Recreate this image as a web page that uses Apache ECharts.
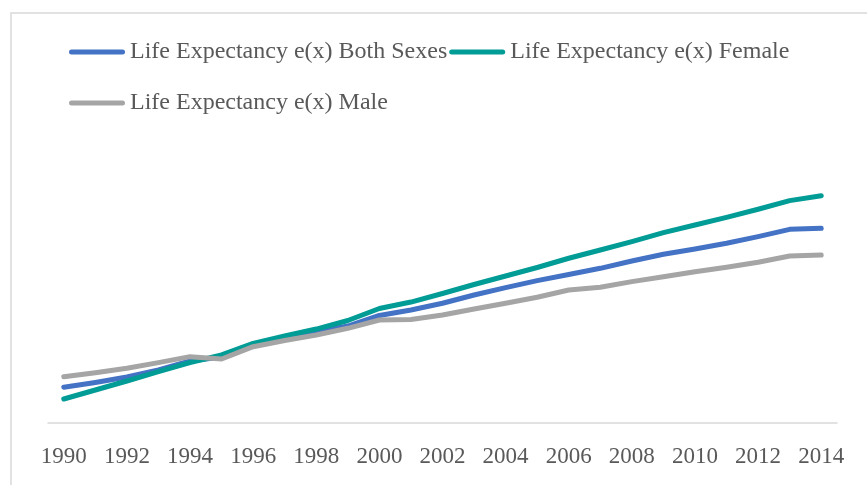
<!DOCTYPE html>
<html>
<head>
<meta charset="utf-8">
<script src="https://cdn.jsdelivr.net/npm/echarts@6/dist/echarts.min.js"></script>
<style>
html,body{margin:0;padding:0;background:#fff;}
#chart{width:867px;height:485px;}
</style>
</head>
<body>
<div id="chart"></div>
<script>
const years = ['1990','1991','1992','1993','1994','1995','1996','1997','1998','1999','2000','2001','2002','2003','2004','2005','2006','2007','2008','2009','2010','2011','2012','2013','2014'];
const bothSexes = [52.98,53.38,53.83,54.42,55.17,55.50,56.50,57.08,57.58,58.08,58.96,59.42,59.98,60.67,61.28,61.86,62.38,62.89,63.50,64.06,64.50,64.98,65.53,66.14,66.23];
const female = [52.00,52.75,53.50,54.29,55.04,55.67,56.63,57.25,57.83,58.54,59.54,60.08,60.79,61.54,62.25,62.96,63.73,64.42,65.11,65.86,66.50,67.14,67.81,68.53,68.94];
const male = [53.86,54.19,54.56,55.03,55.53,55.33,56.36,56.88,57.33,57.89,58.58,58.63,59.00,59.50,59.98,60.48,61.08,61.31,61.78,62.19,62.61,62.98,63.39,63.92,64.00];
const seriesNames = ['Life Expectancy e(x) Both Sexes','Life Expectancy e(x) Female','Life Expectancy e(x) Male'];
const colors = ['#4472C4','#009C95','#A5A5A5'];

const chart = echarts.init(document.getElementById('chart'));
const font = '"Liberation Serif", "DejaVu Serif", serif';
const capsule = 'path://M2.5,0 L53.5,0 A2.5,2.5 0 0 1 53.5,5 L2.5,5 A2.5,2.5 0 0 1 2.5,0 Z';
const legendBase = {
  orient: 'horizontal',
  padding: 0,
  itemWidth: 56,
  itemHeight: 5,
  itemGap: 2,
  icon: capsule,
  textStyle: { fontFamily: font, fontSize: 24, color: '#595959' }
};
function mkSeries(name, data, color) {
  return {
    name: name, type: 'line', data: data, symbol: 'none', smooth: false,
    itemStyle: { color: color },
    lineStyle: { color: color, width: 5, cap: 'round', join: 'round' },
    emphasis: { disabled: true }, animation: false
  };
}
chart.setOption({
  animation: false,
  backgroundColor: '#fff',
  graphic: [{
    type: 'rect', silent: true, z: -1,
    shape: { x: 11, y: 13, width: 900, height: 520 },
    style: { fill: 'none', stroke: '#D9D9D9', lineWidth: 1.5 }
  }],
  legend: [
    Object.assign({}, legendBase, { left: 69, top: 40, data: [seriesNames[0], seriesNames[1]] }),
    Object.assign({}, legendBase, { left: 69, top: 91, data: [seriesNames[2]] })
  ],
  grid: { left: 48, right: 30, top: 63, bottom: 62, containLabel: false },
  xAxis: {
    type: 'category', data: years, boundaryGap: true,
    axisLine: { show: true, lineStyle: { color: '#D9D9D9', width: 1.5 } },
    axisTick: { show: false },
    axisLabel: { interval: 1, margin: 22, fontFamily: font, fontSize: 23, color: '#595959' },
    splitLine: { show: false }
  },
  yAxis: {
    type: 'value', min: 50, max: 80, show: false, splitLine: { show: false }
  },
  series: [
    mkSeries(seriesNames[0], bothSexes, colors[0]),
    mkSeries(seriesNames[1], female, colors[1]),
    mkSeries(seriesNames[2], male, colors[2])
  ]
});
</script>
</body>
</html>
